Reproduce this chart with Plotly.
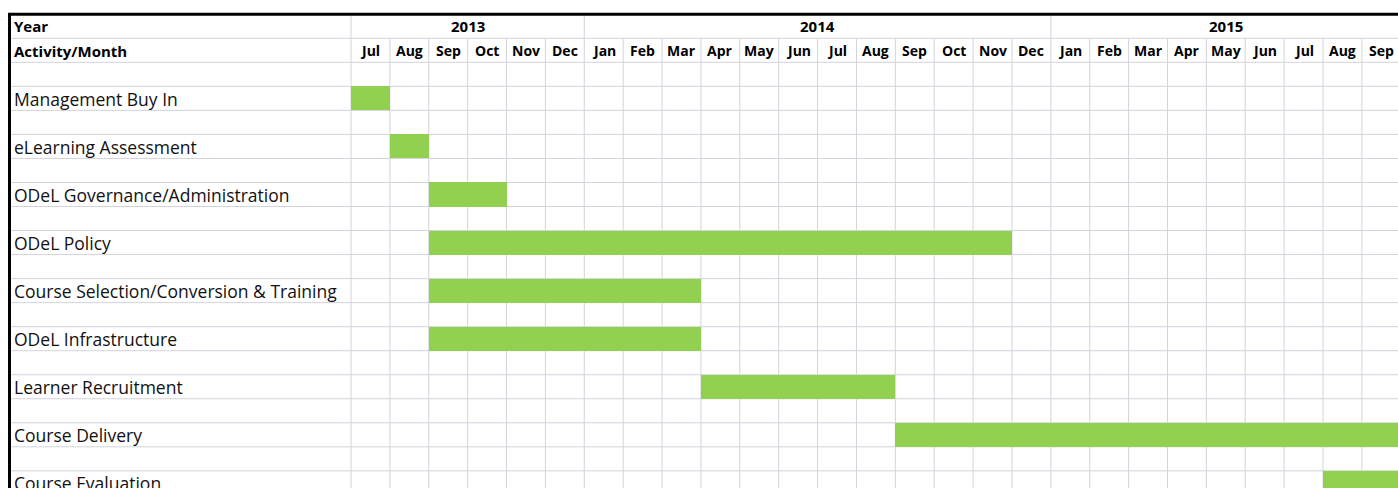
import plotly.graph_objects as go

# ---------------- data ----------------
YEAR_LABELS = ["2013", "2014", "2015"]
YEAR_MONTH_COUNTS = [6, 12, 9]          # visible months per year
MONTH_LABELS = ["Jul", "Aug", "Sep", "Oct", "Nov", "Dec",
                "Jan", "Feb", "Mar", "Apr", "May", "Jun", "Jul", "Aug", "Sep", "Oct", "Nov", "Dec",
                "Jan", "Feb", "Mar", "Apr", "May", "Jun", "Jul", "Aug", "Sep"]
ACTIVITIES = ["Management Buy In", "eLearning Assessment", "ODeL Governance/Administration",
              "ODeL Policy", "Course Selection/Conversion & Training", "ODeL Infrastructure",
              "Learner Recruitment", "Course Delivery", "Course Evaluation"]
START = ["2013-07", "2013-08", "2013-09", "2013-09", "2013-09", "2013-09", "2014-04", "2014-09", "2015-08"]
END = ["2013-07", "2013-08", "2013-10", "2014-11", "2014-03", "2014-03", "2014-08", "2015-09", "2015-09"]

# ---------------- layout constants ----------------
W, H = 1398, 488
LABEL_COL_PX = 351          # width of activity column
MONTH_PX = 38.88            # width of one month column
ROW_PX = 24.03              # height of a sheet row
FIRST_LINE_PX = 38.3        # pixel y of the line under the "Year" row
BORDER_X_PX = 9.5
GREEN = "#92D050"
GRID = "#d3d3dd"
FONT = "Open Sans"


def month_index(s):
    y, m = s.split("-")
    return (int(y) - 2013) * 12 + int(m) - 7


x_min = -LABEL_COL_PX / MONTH_PX
x_max = (W - LABEL_COL_PX) / MONTH_PX
y_top = -1 - (FIRST_LINE_PX - ROW_PX) / ROW_PX
y_bot = (H - FIRST_LINE_PX) / ROW_PX

starts = [month_index(s) for s in START]
durs = [month_index(e) - month_index(s) + 1 for s, e in zip(START, END)]
rows = [2.5 + 2 * i for i in range(len(ACTIVITIES))]

fig = go.Figure()
fig.add_trace(go.Bar(
    orientation="h", y=rows, x=durs, base=starts, width=1,
    marker=dict(color=GREEN, line=dict(width=0)),
    hovertext=ACTIVITIES, showlegend=False,
))

shapes = []
n_months = len(MONTH_LABELS)
n_lines = int(y_bot) + 1
left_paper = BORDER_X_PX / W
# horizontal grid lines
for k in range(0, n_lines + 1):
    shapes.append(dict(type="line", xref="paper", yref="y", x0=left_paper, x1=1, y0=k, y1=k,
                       line=dict(color=GRID, width=1), layer="below"))
# vertical month lines
for m in range(0, n_months + 1):
    shapes.append(dict(type="line", xref="x", yref="y", x0=m, x1=m, y0=0, y1=y_bot + 1,
                       line=dict(color=GRID, width=1), layer="below"))
# year boundary lines through the Year row
acc = 0
year_bounds = [0]
for c in YEAR_MONTH_COUNTS:
    acc += c
    year_bounds.append(acc)
for b in year_bounds:
    shapes.append(dict(type="line", xref="x", yref="y", x0=b, x1=b, y0=-1, y1=0,
                       line=dict(color=GRID, width=1), layer="below"))
# black borders
shapes.append(dict(type="line", xref="paper", yref="y", x0=left_paper - 1.5 / W, x1=1, y0=-1, y1=-1,
                   line=dict(color="black", width=3)))
shapes.append(dict(type="line", xref="paper", yref="y", x0=left_paper, x1=left_paper, y0=-1, y1=y_bot + 1,
                   line=dict(color="black", width=3)))

ann = []
lab_x = 12 / W
ann.append(dict(text="<b>Year</b>", xref="paper", yref="y", x=lab_x, y=-0.5, xanchor="left",
                yanchor="middle", showarrow=False, font=dict(family=FONT, size=15, color="black")))
ann.append(dict(text="<b>Activity/Month</b>", xref="paper", yref="y", x=lab_x, y=0.52, xanchor="left",
                yanchor="middle", showarrow=False, font=dict(family=FONT, size=15, color="black")))
for i, a in enumerate(ACTIVITIES):
    ann.append(dict(text=a, xref="paper", yref="y", x=lab_x, y=rows[i] + 0.02, xanchor="left",
                    yanchor="middle", showarrow=False, font=dict(family=FONT, size=17.5, color="#111")))
for m, lbl in enumerate(MONTH_LABELS):
    ann.append(dict(text="<b>%s</b>" % lbl, xref="x", yref="y", x=m + 0.5, y=0.52, xanchor="center",
                    yanchor="middle", showarrow=False, font=dict(family=FONT, size=14, color="black")))
for i, yl in enumerate(YEAR_LABELS):
    cx = (year_bounds[i] + year_bounds[i + 1]) / 2
    ann.append(dict(text="<b>%s</b>" % yl, xref="x", yref="y", x=cx, y=-0.5, xanchor="center",
                    yanchor="middle", showarrow=False, font=dict(family=FONT, size=15, color="black")))

fig.update_layout(
    width=W, height=H, margin=dict(l=0, r=0, t=0, b=0),
    plot_bgcolor="white", paper_bgcolor="white",
    xaxis=dict(range=[x_min, x_max], showgrid=False, zeroline=False, showticklabels=False,
               fixedrange=True),
    yaxis=dict(range=[y_bot, y_top], showgrid=False, zeroline=False, showticklabels=False,
               fixedrange=True),
    shapes=shapes, annotations=ann, bargap=0,
)
fig.write_html("out.html", config={"displayModeBar": False},
               post_script="document.body.style.margin='0';document.body.style.overflow='hidden';")
